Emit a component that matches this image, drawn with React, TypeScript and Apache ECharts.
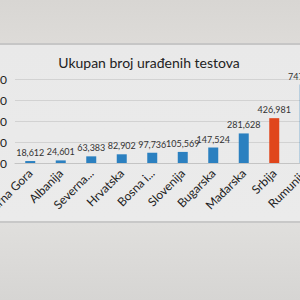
import React, { useEffect, useRef } from "react";
import * as echarts from "echarts";

const categories = [
  "Crna Gora",
  "Albanija",
  "Severna Makedonija",
  "Hrvatska",
  "Bosna i Hercegovina",
  "Slovenija",
  "Bugarska",
  "Mađarska",
  "Srbija",
  "Rumunija",
];
const tickLabels = [
  "Crna Gora",
  "Albanija",
  "Severna...",
  "Hrvatska",
  "Bosna i...",
  "Slovenija",
  "Bugarska",
  "Mađarska",
  "Srbija",
  "Rumunija",
];
const testValues = [18612, 24601, 63383, 82902, 97736, 105569, 147524, 281628, 426981, 747432];
const highlighted = "Srbija";
const titleText = "Ukupan broj urađenih testova";

const FONT = "Lato, 'Open Sans', sans-serif";

export default function App() {
  const ref = useRef<HTMLDivElement>(null);
  useEffect(() => {
    if (!ref.current) return;
    const chart = echarts.init(ref.current, null, { renderer: "svg" });
    chart.setOption({
      animation: false,
      backgroundColor: "transparent",
      title: {
        text: titleText,
        left: 204,
        top: 50,
        textAlign: "center",
        textStyle: { fontFamily: FONT, fontSize: 14, fontWeight: "normal", color: "#222" },
      },
      grid: { left: 75, right: 40, top: 79, bottom: 137, containLabel: false },
      xAxis: {
        type: "category",
        data: categories,
        axisLine: { lineStyle: { color: "#c4c4c4" } },
        axisTick: { show: false },
        axisLabel: {
          rotate: 45,
          interval: 0,
          margin: 8,
          fontFamily: FONT,
          fontSize: 12,
          color: "#222",
          formatter: (_v: string, i: number) => tickLabels[i],
        },
      },
      yAxis: {
        type: "value",
        min: 0,
        max: 800000,
        interval: 200000,
        axisLine: { show: false },
        axisTick: { show: false },
        splitLine: { lineStyle: { color: "#d2d2d2" } },
        axisLabel: {
          margin: 8,
          fontFamily: FONT,
          fontSize: 12,
          color: "#222",
          formatter: (v: number) => v.toLocaleString("en-US"),
        },
      },
      series: [
        {
          type: "bar",
          barWidth: 10,
          data: testValues.map((v, i) => ({
            value: v,
            itemStyle: { color: categories[i] === highlighted ? "#e0461c" : "#2b80c0" },
          })),
          label: {
            show: true,
            position: "top",
            distance: 4,
            fontFamily: FONT,
            fontSize: 9,
            color: "#333",
            formatter: (p: any) => Number(p.value).toLocaleString("en-US"),
          },
        },
      ],
    });
    return () => chart.dispose();
  }, []);
  return (
    <div
      style={{
        position: "fixed",
        left: 0,
        top: 0,
        width: 300,
        height: 300,
        overflow: "hidden",
        background:
          "linear-gradient(to bottom, #d8d6d3 0px, #dddbd8 43px, #c6c6c6 43px, #c6c6c6 45px, #e9e9e9 45px, #ebebeb 221px, #c8c8c8 221px, #c8c8c8 223px, #e0dfdd 223px, #d6d5d3 300px)",
      }}
    >
      <div ref={ref} style={{ position: "absolute", left: -60, top: 0, width: 420, height: 300 }} />
    </div>
  );
}
